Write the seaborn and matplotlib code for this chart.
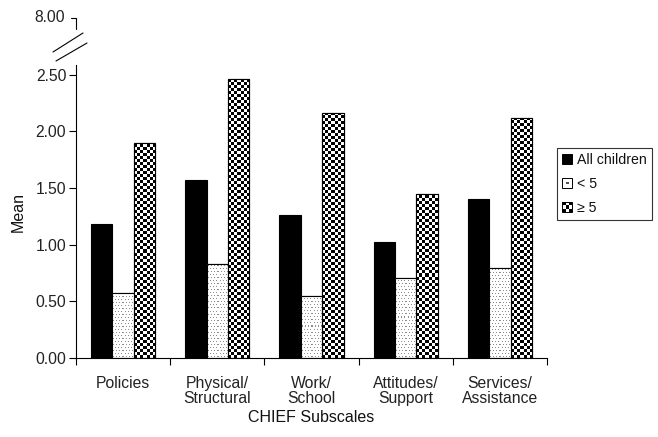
import numpy as np
import pandas as pd
import matplotlib
matplotlib.use("Agg")
import matplotlib.pyplot as plt
from matplotlib.lines import Line2D
from matplotlib.patches import Rectangle
from matplotlib.legend_handler import HandlerBase
import seaborn as sns

# ---- data -------------------------------------------------------------
subscales = ["Policies", "Physical/\nStructural", "Work/\nSchool",
             "Attitudes/\nSupport", "Services/\nAssistance"]
groups = ["All children", "< 5", "\u2265 5"]
all_children = [1.18, 1.57, 1.26, 1.02, 1.40]
under_five = [0.57, 0.83, 0.55, 0.71, 0.79]
five_plus = [1.90, 2.46, 2.16, 1.45, 2.12]
y_ticks = [0.0, 0.5, 1.0, 1.5, 2.0, 2.5]
break_label = "8.00"

df = pd.DataFrame({
    "Subscale": subscales * 3,
    "Group": [g for g in groups for _ in subscales],
    "Mean": all_children + under_five + five_plus,
})

# ---- figure -----------------------------------------------------------
sns.set_style("white")
plt.rcParams["font.family"] = ["Liberation Sans", "DejaVu Sans"]
W, H = 658, 437
fig = plt.figure(figsize=(W / 100, H / 100), dpi=100)

# axes box in pixels (left, right, top, bottom)
L, R, T, B = 76, 547, 65, 358
ax = fig.add_axes([L / W, 1 - B / H, (R - L) / W, (B - T) / H])

sns.barplot(data=df, x="Subscale", y="Mean", hue="Group", order=subscales,
            hue_order=groups, palette=["black", "white", "black"],
            width=0.68, edgecolor="black", linewidth=0.8, saturation=1,
            errorbar=None, legend=False, ax=ax)

ax.set_xlim(-0.5, len(subscales) - 0.5)
ax.set_ylim(0, 2.586)
ax.set_yticks(y_ticks)
ax.set_yticklabels([f"{v:.2f}" for v in y_ticks])
ax.set_xticks(np.arange(-0.5, len(subscales)), minor=True)
ax.tick_params(axis="x", which="major", length=0, pad=13, labelsize=11.3,
               labelcolor="#222222")
ax.tick_params(axis="x", which="minor", length=5, width=0.8, direction="out",
               color="black", bottom=True)
ax.tick_params(axis="y", length=5, width=0.8, direction="out", color="black",
               pad=2, labelsize=11.3, labelcolor="#222222", left=True)
for t in ax.get_xticklabels():
    t.set_linespacing(1.0)
for side in ("top", "right"):
    ax.spines[side].set_visible(False)
for side in ("left", "bottom"):
    ax.spines[side].set_color("black")
    ax.spines[side].set_linewidth(0.8)
ax.set_xlabel("CHIEF Subscales", fontsize=11.5, color="#111111", labelpad=3)
ax.set_ylabel("Mean", fontsize=11.5, color="#111111", labelpad=7)


# ---- textures for the stippled and checkered bars ---------------------
def checker(h, w, cell=3):
    yy, xx = np.mgrid[0:h, 0:w]
    on = ((yy // cell + xx // cell) % 2) == 0
    img = np.where(on, 0.0, 1.0)
    return np.dstack([img, img, img])


def stipple(h, w, step=3):
    yy, xx = np.mgrid[0:h, 0:w]
    dots = ((yy % step) == 1) & (((xx + (yy // step) % 2) % step) == 1)
    img = np.where(dots, 0.55, 1.0)
    return np.dstack([img, img, img])


def texture_bars(container, maker):
    for bar in container.patches:
        x0, y0 = bar.get_x(), bar.get_y()
        x1, y1 = x0 + bar.get_width(), y0 + bar.get_height()
        p0 = ax.transData.transform((x0, y0))
        p1 = ax.transData.transform((x1, y1))
        w = max(int(round(abs(p1[0] - p0[0]))), 1)
        h = max(int(round(abs(p1[1] - p0[1]))), 1)
        im = ax.imshow(maker(h, w), extent=(x0, x1, y0, y1), origin="lower",
                       interpolation="nearest", aspect="auto",
                       zorder=bar.get_zorder() + 0.1)
        im.set_clip_path(bar)
        # outline on top of the texture
        ax.add_patch(Rectangle((x0, y0), x1 - x0, y1 - y0, fill=False,
                               edgecolor="black", linewidth=0.8,
                               zorder=bar.get_zorder() + 0.2))


texture_bars(ax.containers[1], stipple)
texture_bars(ax.containers[2], checker)
ax.set_xlim(-0.5, len(subscales) - 0.5)
ax.set_ylim(0, 2.586)


# ---- legend -----------------------------------------------------------
class SwatchHandler(HandlerBase):
    def __init__(self, kind):
        super().__init__()
        self.kind = kind

    def create_artists(self, legend, orig_handle, xdescent, ydescent,
                       width, height, fontsize, trans):
        s = 7.5
        x0 = -xdescent + (width - s) / 2
        y0 = -ydescent + (height - s) / 2
        arts = []
        face = "black" if self.kind == "solid" else "white"
        arts.append(Rectangle((x0, y0), s, s, facecolor=face,
                              edgecolor="black", linewidth=0.7, transform=trans))
        if self.kind == "dot":
            arts.append(Rectangle((x0 + s / 2 - 0.9, y0 + s / 2 - 0.9), 1.8, 1.8,
                                  facecolor="#555555", edgecolor="none",
                                  transform=trans))
        elif self.kind == "check":
            c = s / 3
            for i in range(3):
                for j in range(3):
                    if (i + j) % 2 == 0:
                        arts.append(Rectangle((x0 + i * c, y0 + j * c), c, c,
                                              facecolor="black",
                                              edgecolor="none", transform=trans))
        return arts


class _Solid: pass
class _Dotted: pass
class _Checked: pass


handles = [_Solid(), _Dotted(), _Checked()]
leg = fig.legend(handles, groups,
                 handler_map={_Solid: SwatchHandler("solid"),
                              _Dotted: SwatchHandler("dot"),
                              _Checked: SwatchHandler("check")},
                 loc="upper left", bbox_to_anchor=(557 / W, 1 - 148 / H),
                 frameon=True, fancybox=False, fontsize=10.2,
                 handlelength=0.75, handletextpad=0.3, labelspacing=0.7,
                 borderpad=0.35, borderaxespad=0)
leg.get_frame().set_edgecolor("black")
leg.get_frame().set_linewidth(0.8)
for t in leg.get_texts():
    t.set_color("#111111")

# ---- axis break above the plotted range --------------------------------
def px(x, y):
    return x / W, 1 - y / H


def fig_line(points, **kw):
    xs, ys = zip(*[px(x, y) for x, y in points])
    fig.add_artist(Line2D(xs, ys, transform=fig.transFigure,
                          color="black", linewidth=0.8, **kw))


fig_line([(71, 18), (L, 18), (L, 29)])
fig_line([(53, 52), (83, 33)])
fig_line([(56, 61), (87, 43)])
fig.text(*px(65, 18), break_label, ha="right", va="center",
         fontsize=11.3, color="#222222")

fig.savefig("out.png", dpi=100)
